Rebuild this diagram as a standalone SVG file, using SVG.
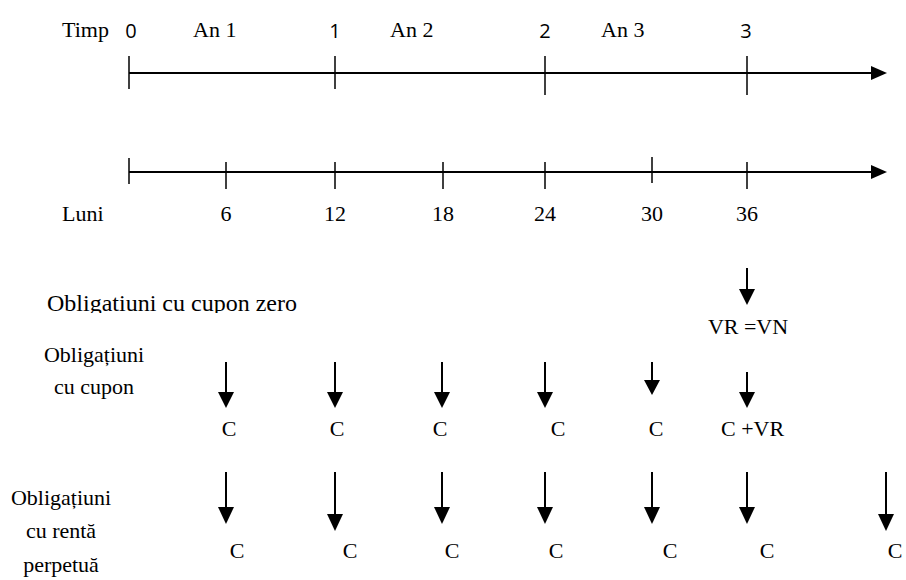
<svg xmlns="http://www.w3.org/2000/svg" width="906" height="580" viewBox="0 0 906 580">
<style>
.ln{stroke:#000;stroke-width:2;fill:none}
.tk{stroke:#000;stroke-width:1.5;fill:none}
.ah{fill:#000}
</style>
<defs>
<clipPath id="clipZero"><rect x="0" y="280" width="400" height="33"/></clipPath>
</defs>
<rect width="906" height="580" fill="#fff"/>

<g id="timeline-years">
<line class="ln" x1="129" y1="73" x2="873" y2="73"/>
<polygon class="ah" points="871,66 887,73 871,80"/>
<line class="tk" x1="129" y1="56" x2="129" y2="89"/>
<line class="tk" x1="335" y1="56" x2="335" y2="89"/>
<line class="tk" x1="545" y1="56" x2="545" y2="95"/>
<line class="tk" x1="747" y1="56" x2="747" y2="95"/>
<text font-family="Liberation Serif" font-size="22" x="62" y="37">Timp</text>
<text font-family="Liberation Serif" font-size="22" x="193" y="37">An 1</text>
<text font-family="Liberation Serif" font-size="22" x="390" y="37">An 2</text>
<text font-family="Liberation Serif" font-size="22" x="601" y="37">An 3</text>
<text font-family="Open Sans" font-size="20" text-anchor="middle" x="131" y="38">0</text>
<text font-family="Open Sans" font-size="20" text-anchor="middle" x="335" y="38">1</text>
<text font-family="Open Sans" font-size="20" text-anchor="middle" x="545" y="38">2</text>
<text font-family="Open Sans" font-size="20" text-anchor="middle" x="746" y="38">3</text>
</g>

<g id="timeline-months">
<line class="ln" x1="129" y1="172" x2="873" y2="172"/>
<polygon class="ah" points="871,165 887,172 871,179"/>
<line class="tk" x1="129" y1="158" x2="129" y2="184"/>
<line class="tk" x1="226" y1="162" x2="226" y2="189"/>
<line class="tk" x1="335" y1="162" x2="335" y2="189"/>
<line class="tk" x1="443" y1="162" x2="443" y2="189"/>
<line class="tk" x1="545" y1="162" x2="545" y2="189"/>
<line class="tk" x1="652" y1="157" x2="652" y2="183"/>
<line class="tk" x1="747" y1="162" x2="747" y2="189"/>
<text font-family="Liberation Serif" font-size="22" x="62" y="221">Luni</text>
<text font-family="Liberation Serif" font-size="22" text-anchor="middle" x="226" y="221">6</text>
<text font-family="Liberation Serif" font-size="22" text-anchor="middle" x="335" y="221">12</text>
<text font-family="Liberation Serif" font-size="22" text-anchor="middle" x="443" y="221">18</text>
<text font-family="Liberation Serif" font-size="22" text-anchor="middle" x="545" y="221">24</text>
<text font-family="Liberation Serif" font-size="22" text-anchor="middle" x="652" y="221">30</text>
<text font-family="Liberation Serif" font-size="22" text-anchor="middle" x="747" y="221">36</text>
</g>

<g id="zero-coupon">
<text font-family="Liberation Serif" font-size="24" x="47" y="311" clip-path="url(#clipZero)">Obligatiuni cu cupon zero</text>
<text font-family="Liberation Serif" font-size="22" text-anchor="middle" x="748" y="334">VR =VN</text>
</g>

<g id="coupon">
<text font-family="Liberation Serif" font-size="22" text-anchor="middle" x="94" y="362">Obligațiuni</text>
<text font-family="Liberation Serif" font-size="22" text-anchor="middle" x="94" y="394">cu cupon</text>
<text font-family="Liberation Serif" font-size="22" text-anchor="middle" x="229" y="436">C</text>
<text font-family="Liberation Serif" font-size="22" text-anchor="middle" x="337" y="436">C</text>
<text font-family="Liberation Serif" font-size="22" text-anchor="middle" x="440" y="436">C</text>
<text font-family="Liberation Serif" font-size="22" text-anchor="middle" x="558" y="436">C</text>
<text font-family="Liberation Serif" font-size="22" text-anchor="middle" x="656" y="436">C</text>
<text font-family="Liberation Serif" font-size="22" x="721" y="436">C +VR</text>
</g>

<g id="perpetual">
<text font-family="Liberation Serif" font-size="22" text-anchor="middle" x="61" y="505">Obligațiuni</text>
<text font-family="Liberation Serif" font-size="22" text-anchor="middle" x="61" y="538">cu rentă</text>
<text font-family="Liberation Serif" font-size="22" text-anchor="middle" x="61" y="572">perpetuă</text>
<text font-family="Liberation Serif" font-size="22" text-anchor="middle" x="237" y="558">C</text>
<text font-family="Liberation Serif" font-size="22" text-anchor="middle" x="350" y="558">C</text>
<text font-family="Liberation Serif" font-size="22" text-anchor="middle" x="452" y="558">C</text>
<text font-family="Liberation Serif" font-size="22" text-anchor="middle" x="556" y="558">C</text>
<text font-family="Liberation Serif" font-size="22" text-anchor="middle" x="670" y="558">C</text>
<text font-family="Liberation Serif" font-size="22" text-anchor="middle" x="767" y="558">C</text>
<text font-family="Liberation Serif" font-size="22" text-anchor="middle" x="895" y="558">C</text>
</g>

<g id="connectors">
<line class="ln" x1="747" y1="268" x2="747" y2="292"/>
<polygon class="ah" points="739,289 755,289 747,305"/>

<line class="ln" x1="226" y1="362" x2="226" y2="394"/>
<polygon class="ah" points="218,392 234,392 226,408"/>
<line class="ln" x1="335" y1="362" x2="335" y2="394"/>
<polygon class="ah" points="327,392 343,392 335,408"/>
<line class="ln" x1="442" y1="362" x2="442" y2="394"/>
<polygon class="ah" points="434,392 450,392 442,408"/>
<line class="ln" x1="545" y1="362" x2="545" y2="394"/>
<polygon class="ah" points="537,392 553,392 545,408"/>
<line class="ln" x1="652" y1="362" x2="652" y2="382"/>
<polygon class="ah" points="644,380 660,380 652,395"/>
<line class="ln" x1="747" y1="372" x2="747" y2="394"/>
<polygon class="ah" points="739,392 755,392 747,408"/>

<line class="ln" x1="226" y1="472" x2="226" y2="510"/>
<polygon class="ah" points="218,507 234,507 226,524"/>
<line class="ln" x1="335" y1="472" x2="335" y2="517"/>
<polygon class="ah" points="327,514 343,514 335,531"/>
<line class="ln" x1="442" y1="472" x2="442" y2="510"/>
<polygon class="ah" points="434,507 450,507 442,524"/>
<line class="ln" x1="545" y1="472" x2="545" y2="510"/>
<polygon class="ah" points="537,507 553,507 545,524"/>
<line class="ln" x1="652" y1="472" x2="652" y2="510"/>
<polygon class="ah" points="644,507 660,507 652,524"/>
<line class="ln" x1="747" y1="472" x2="747" y2="510"/>
<polygon class="ah" points="739,507 755,507 747,524"/>
<line class="ln" x1="886" y1="472" x2="886" y2="517"/>
<polygon class="ah" points="878,514 894,514 886,531"/>
</g>
</svg>
